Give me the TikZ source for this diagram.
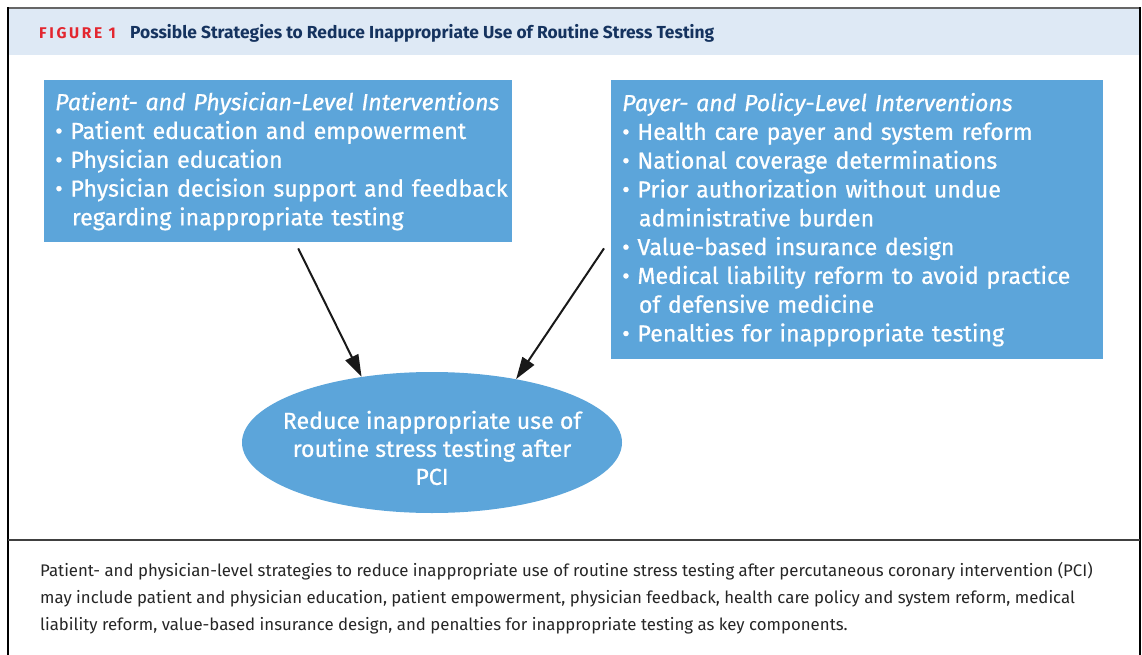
\documentclass[tikz,border=0pt]{standalone}
\usepackage{fontspec}
\setmainfont{Fira Sans}
\usepackage{xcolor}
\usepackage{tikz}
\usetikzlibrary{shapes.geometric,arrows.meta}
\definecolor{boxblue}{HTML}{5CA5DA}
\definecolor{headbg}{HTML}{DEE9F5}
\definecolor{navy}{HTML}{15335F}
\definecolor{figred}{HTML}{E3262F}
\def\itm#1{\mbox{\textbullet\ #1}}
\def\cont#1{\mbox{\hspace*{0.72em}#1}}
\tikzstyle{level}=[fill=boxblue,text=white,anchor=north west,align=left,inner xsep=11pt,font=\fontsize{23.2}{28.8}\selectfont\addfontfeature{FakeBold=0.7}]
\tikzstyle{goal}=[ellipse,fill=boxblue,text=white,minimum width=380pt,minimum height=141pt,align=center,inner xsep=-30pt,inner ysep=0pt,font=\fontsize{23.2}{28}\selectfont\addfontfeature{FakeBold=0.7}]
\tikzstyle{arr}=[-{Triangle[length=22pt,width=14pt]},line width=2pt,draw=black!90,fill=black!90]
\tikzstyle{plain}=[inner sep=0pt,anchor=base west]

\begin{document}
\begin{tikzpicture}[x=1pt,y=-1pt]
    \useasboundingbox (0,0) rectangle (1142,655);
    % frame and header band
    \fill[headbg] (9,9) rectangle (1139,55);
    \draw[line width=1.5pt,black!60] (8,8) -- (1140,8);
    \draw[line width=2.5pt] (8,7.3) -- (8,655) (1140,7.3) -- (1140,655);
    \draw[line width=1.5pt,black!75] (8,540) -- (1140,540);
    \node[plain,text=figred,font=\bfseries\fontsize{15.5}{18}\selectfont\addfontfeature{LetterSpace=17}] (fig) at (39,38.5) {FIGURE 1};
    \node[plain,text=navy,font=\bfseries\fontsize{17.4}{20}\selectfont] (title) at (130,38.5) {Possible Strategies to Reduce Inappropriate Use of Routine Stress Testing};
    % the two groups of interventions
    \node[level,minimum width=468pt,minimum height=162pt,text width=446pt] (patient) at (44,80) {%
      \textit{Patient- and Physician-Level Interventions}\\
      \itm{Patient education and empowerment}\\
      \itm{Physician education}\\
      \itm{Physician decision support and feedback}\\
      \cont{regarding inappropriate testing}};
    \node[level,minimum width=492pt,minimum height=279pt,text width=470pt] (payer) at (611,80) {%
      \textit{Payer- and Policy-Level Interventions}\\
      \itm{Health care payer and system reform}\\
      \itm{National coverage determinations}\\
      \itm{Prior authorization without undue}\\
      \cont{administrative burden}\\
      \itm{Value-based insurance design}\\
      \itm{Medical liability reform to avoid practice}\\
      \cont{of defensive medicine}\\
      \itm{Penalties for inappropriate testing}};
    \node[goal] (target) at (432,442.5) {\rule{0pt}{29pt}Reduce inappropriate use of\\routine stress testing after\\PCI};
    % arrows into the goal
    \coordinate (s1) at ([xshift=20pt,yshift=-6pt]patient.south);
    \path (payer.west |- s1) ++(-7,0) coordinate (s2);
    \draw[arr] (s1) -- (target.137);
    \draw[arr] (s2) -- (target.37);
    % legend below the divider
    \node[plain,anchor=north west,align=left,text=black!85,font=\fontsize{16.8}{27}\selectfont] (legend) at (40,562) {%
      Patient- and physician-level strategies to reduce inappropriate use of routine stress testing after percutaneous coronary intervention (PCI)\\
      may include patient and physician education, patient empowerment, physician feedback, health care policy and system reform, medical\\
      liability reform, value-based insurance design, and penalties for inappropriate testing as key components.};
  \end{tikzpicture}
\end{document}
